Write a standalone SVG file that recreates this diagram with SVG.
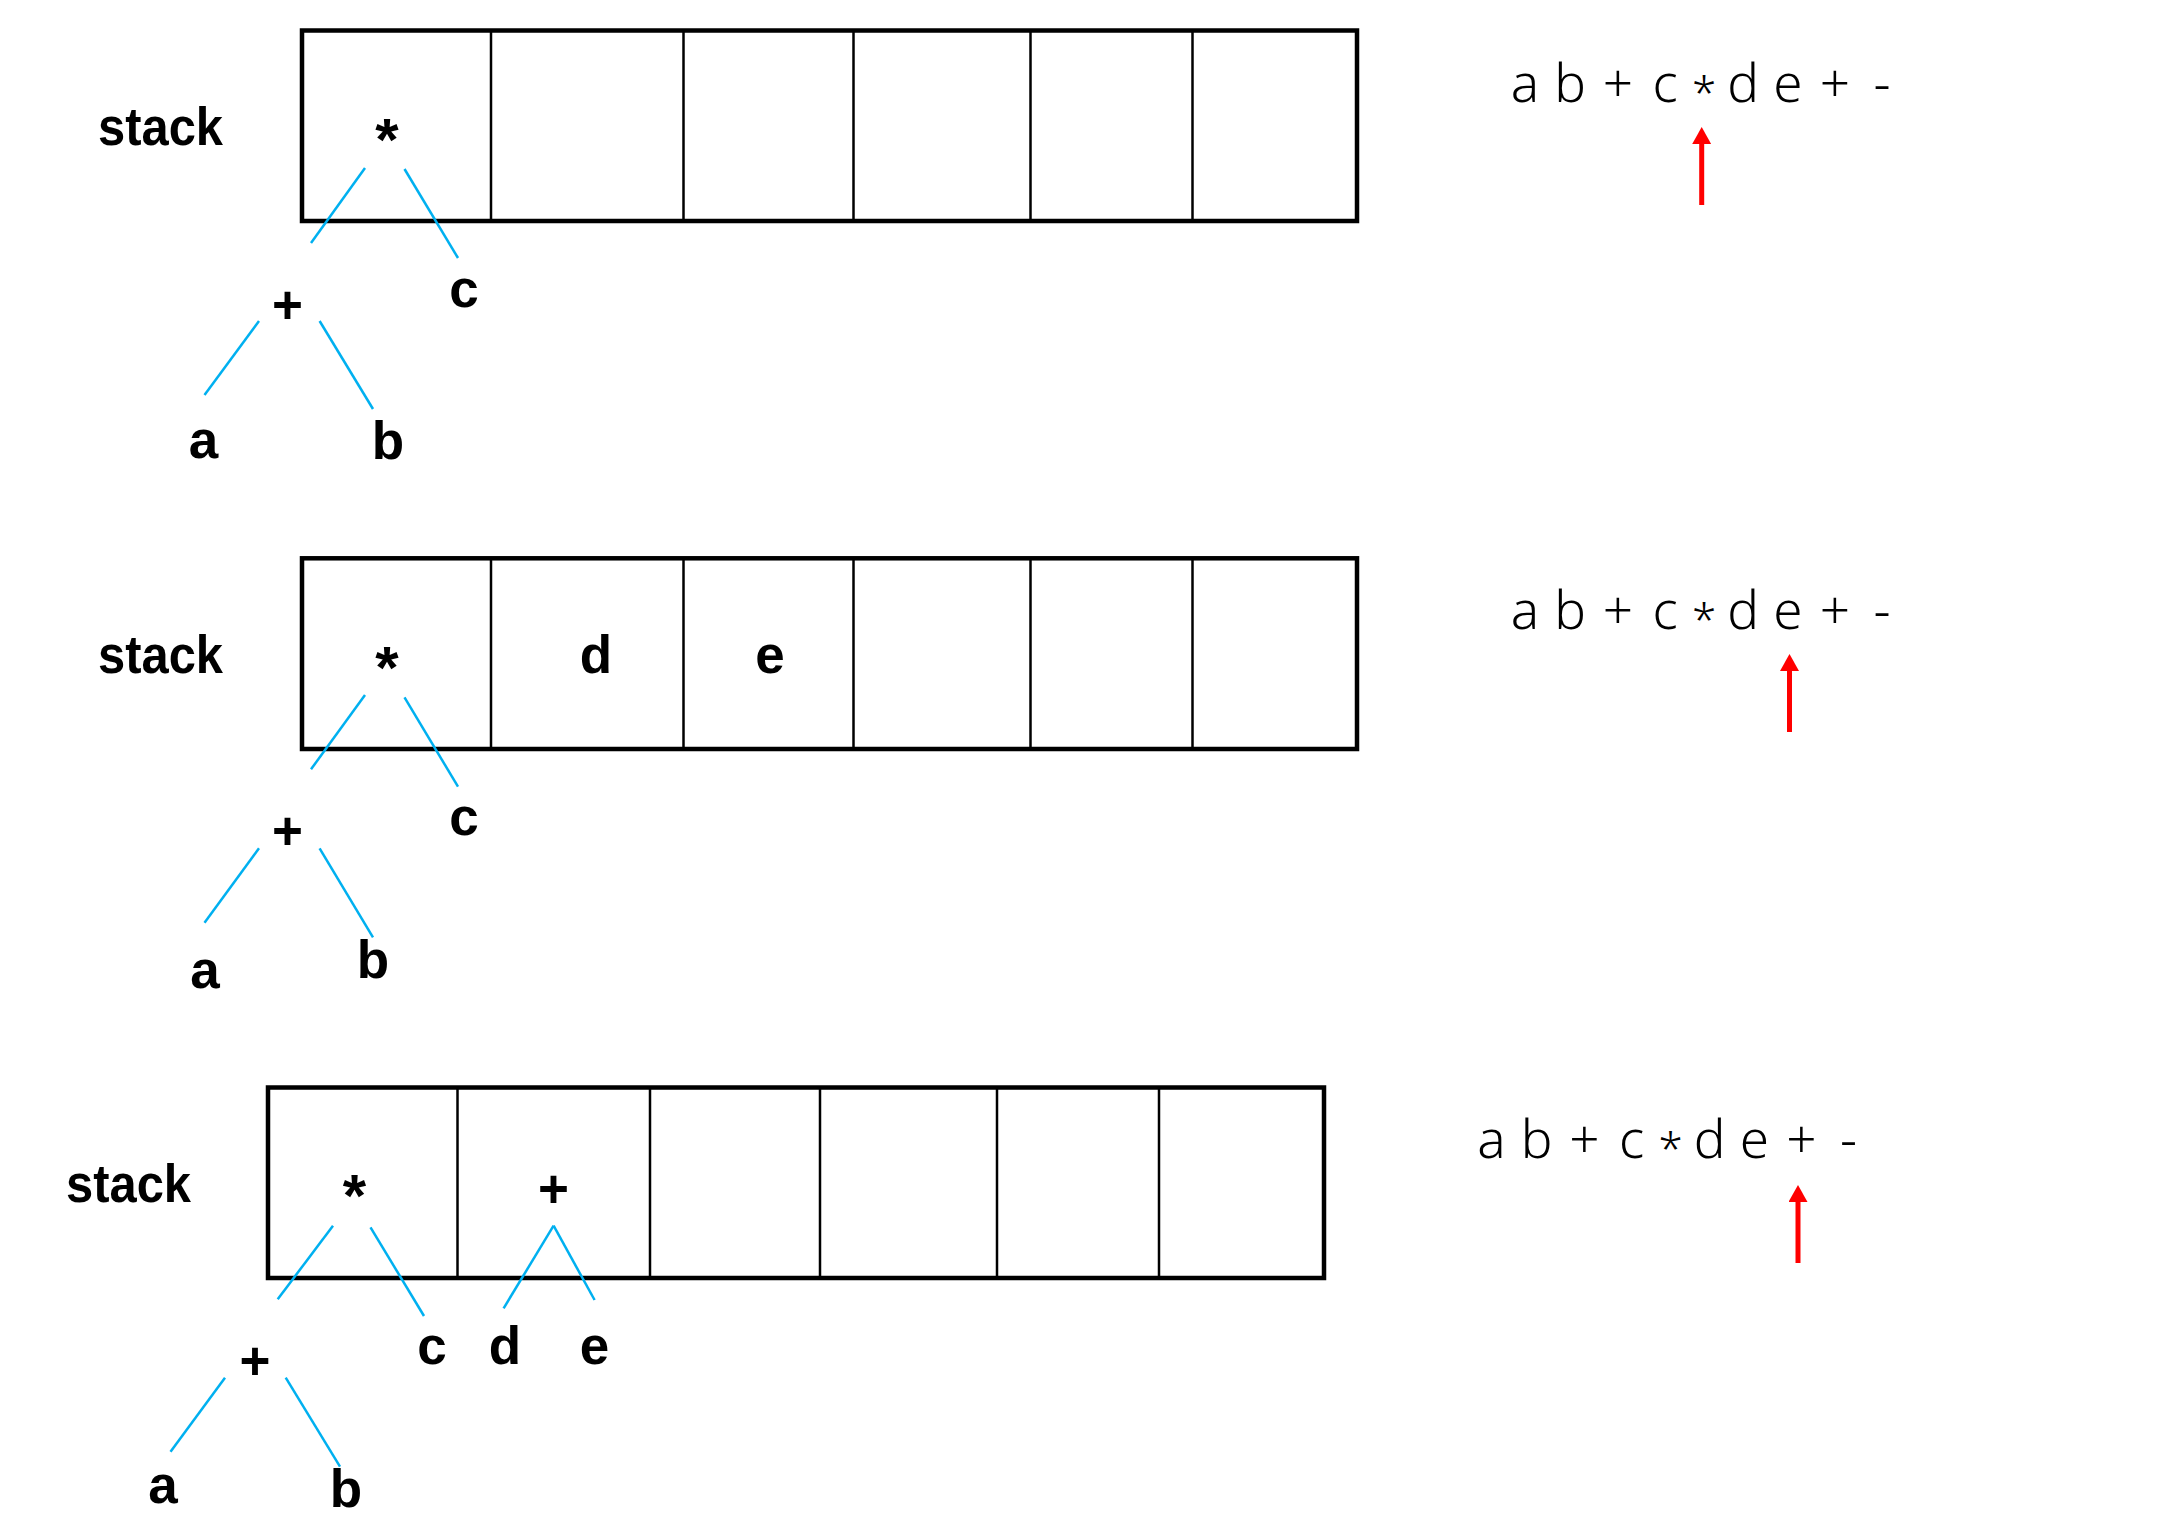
<svg xmlns="http://www.w3.org/2000/svg" width="2169" height="1534" viewBox="0 0 2169 1534">
<style>
  .box { fill: none; stroke: #000; stroke-width: 4.5; }
  .div { stroke: #000; stroke-width: 2.5; }
  .lbl { font-family: "Liberation Sans", Arial, sans-serif; font-weight: bold; font-size: 53px; fill: #000; text-anchor: middle; }
  .ast { font-size: 60px; }
  .edge { stroke: #00B0F0; stroke-width: 2.5; fill: none; }
  .seq { font-family: "Noto Sans", "Liberation Sans", sans-serif; font-weight: 300; font-size: 53px; fill: #000; text-anchor: middle; }
  .sa { font-size: 44px; }
  .ptr { stroke: #FF0000; stroke-width: 5; marker-end: url(#redhead); }
</style>
<defs>
  <marker id="redhead" markerUnits="userSpaceOnUse" markerWidth="18" markerHeight="19" refX="0" refY="9.5" orient="auto">
    <path d="M0,0 L17,9.5 L0,19 z" fill="#FF0000"/>
  </marker>
</defs>
<rect width="2169" height="1534" fill="#fff"/>

<!-- Panel 1 -->
<g id="panel1">
  <g id="p1-stack">
    <rect class="box" x="302" y="30.5" width="1055" height="190.5"/>
    <line class="div" x1="491" y1="30.5" x2="491" y2="221"/>
    <line class="div" x1="683.5" y1="30.5" x2="683.5" y2="221"/>
    <line class="div" x1="853.5" y1="30.5" x2="853.5" y2="221"/>
    <line class="div" x1="1030.5" y1="30.5" x2="1030.5" y2="221"/>
    <line class="div" x1="1192.5" y1="30.5" x2="1192.5" y2="221"/>
  </g>
  <g id="p1-label"><text class="lbl" x="160.5" y="145" textLength="125" lengthAdjust="spacingAndGlyphs">stack</text></g>
  <g id="p1-mul"><text class="lbl ast" x="387" y="160">*</text></g>
  <g id="p1-plus"><text class="lbl" x="287.5" y="322.5">+</text></g>
  <g id="p1-c"><text class="lbl" x="464" y="307">c</text></g>
  <g id="p1-a"><text class="lbl" x="203.5" y="458">a</text></g>
  <g id="p1-b"><text class="lbl" x="388" y="459">b</text></g>
  <g id="p1-seq"><text class="seq" y="101.7"><tspan x="1525">a</tspan><tspan x="1570">b</tspan><tspan x="1618">+</tspan><tspan x="1665">c</tspan><tspan class="sa" x="1704" y="109">*</tspan><tspan x="1743" y="101.7">d</tspan><tspan x="1788">e</tspan><tspan x="1835">+</tspan><tspan x="1882">-</tspan></text></g>
</g>

<!-- Panel 2 -->
<g id="panel2">
  <g id="p2-stack">
    <rect class="box" x="302" y="558.3" width="1055" height="190.7"/>
    <line class="div" x1="491" y1="558.3" x2="491" y2="749"/>
    <line class="div" x1="683.5" y1="558.3" x2="683.5" y2="749"/>
    <line class="div" x1="853.5" y1="558.3" x2="853.5" y2="749"/>
    <line class="div" x1="1030.5" y1="558.3" x2="1030.5" y2="749"/>
    <line class="div" x1="1192.5" y1="558.3" x2="1192.5" y2="749"/>
  </g>
  <g id="p2-label"><text class="lbl" x="160.5" y="673" textLength="125" lengthAdjust="spacingAndGlyphs">stack</text></g>
  <g id="p2-mul"><text class="lbl ast" x="387" y="688">*</text></g>
  <g id="p2-d"><text class="lbl" x="596" y="673">d</text></g>
  <g id="p2-e"><text class="lbl" x="770" y="673">e</text></g>
  <g id="p2-plus"><text class="lbl" x="287.5" y="848.5">+</text></g>
  <g id="p2-c"><text class="lbl" x="464" y="835">c</text></g>
  <g id="p2-a"><text class="lbl" x="205" y="988">a</text></g>
  <g id="p2-b"><text class="lbl" x="373" y="978">b</text></g>
  <g id="p2-seq"><text class="seq" y="628.7"><tspan x="1525">a</tspan><tspan x="1570">b</tspan><tspan x="1618">+</tspan><tspan x="1665">c</tspan><tspan class="sa" x="1704" y="636">*</tspan><tspan x="1743" y="628.7">d</tspan><tspan x="1788">e</tspan><tspan x="1835">+</tspan><tspan x="1882">-</tspan></text></g>
</g>

<!-- Panel 3 -->
<g id="panel3">
  <g id="p3-stack">
    <rect class="box" x="268" y="1087.5" width="1056" height="190.5"/>
    <line class="div" x1="457.5" y1="1087.5" x2="457.5" y2="1278"/>
    <line class="div" x1="650" y1="1087.5" x2="650" y2="1278"/>
    <line class="div" x1="820" y1="1087.5" x2="820" y2="1278"/>
    <line class="div" x1="997" y1="1087.5" x2="997" y2="1278"/>
    <line class="div" x1="1159" y1="1087.5" x2="1159" y2="1278"/>
  </g>
  <g id="p3-label"><text class="lbl" x="128.5" y="1202" textLength="125" lengthAdjust="spacingAndGlyphs">stack</text></g>
  <g id="p3-mul"><text class="lbl ast" x="354.5" y="1216">*</text></g>
  <g id="p3-plus2"><text class="lbl" x="553.6" y="1206.5">+</text></g>
  <g id="p3-plus"><text class="lbl" x="255" y="1378.5">+</text></g>
  <g id="p3-c"><text class="lbl" x="432" y="1364">c</text></g>
  <g id="p3-d"><text class="lbl" x="505" y="1364">d</text></g>
  <g id="p3-e"><text class="lbl" x="594.6" y="1364">e</text></g>
  <g id="p3-a"><text class="lbl" x="163" y="1503">a</text></g>
  <g id="p3-b"><text class="lbl" x="346" y="1507">b</text></g>
  <g id="p3-seq"><text class="seq" y="1158"><tspan x="1491.5">a</tspan><tspan x="1536.5">b</tspan><tspan x="1584.5">+</tspan><tspan x="1631.5">c</tspan><tspan class="sa" x="1670.5" y="1165.3">*</tspan><tspan x="1709.5" y="1158">d</tspan><tspan x="1754.5">e</tspan><tspan x="1801.5">+</tspan><tspan x="1848.5">-</tspan></text></g>
</g>

<!-- Connectors -->
<g id="connectors">
  <line class="edge" x1="365" y1="168" x2="311" y2="243"/>
  <line class="edge" x1="404.5" y1="169" x2="458" y2="258"/>
  <line class="edge" x1="259" y1="321" x2="204.5" y2="395"/>
  <line class="edge" x1="319.6" y1="321" x2="373" y2="409"/>

  <line class="edge" x1="365" y1="695" x2="311" y2="769.3"/>
  <line class="edge" x1="404.5" y1="697.3" x2="458" y2="786.7"/>
  <line class="edge" x1="259" y1="848.3" x2="204.5" y2="922.7"/>
  <line class="edge" x1="319.6" y1="848.3" x2="373" y2="937.3"/>

  <line class="edge" x1="333" y1="1225.7" x2="277.7" y2="1299.3"/>
  <line class="edge" x1="370.5" y1="1227.3" x2="424" y2="1316"/>
  <line class="edge" x1="225" y1="1377.7" x2="170.5" y2="1451.7"/>
  <line class="edge" x1="285.7" y1="1377.7" x2="340" y2="1466.7"/>
  <line class="edge" x1="553.6" y1="1225.7" x2="503.6" y2="1308.3"/>
  <line class="edge" x1="553.6" y1="1225.7" x2="594.6" y2="1300"/>

  <line class="ptr" x1="1701.7" y1="205" x2="1701.7" y2="144"/>
  <line class="ptr" x1="1789.5" y1="732" x2="1789.5" y2="671"/>
  <line class="ptr" x1="1798" y1="1263" x2="1798" y2="1202"/>
</g>
</svg>
